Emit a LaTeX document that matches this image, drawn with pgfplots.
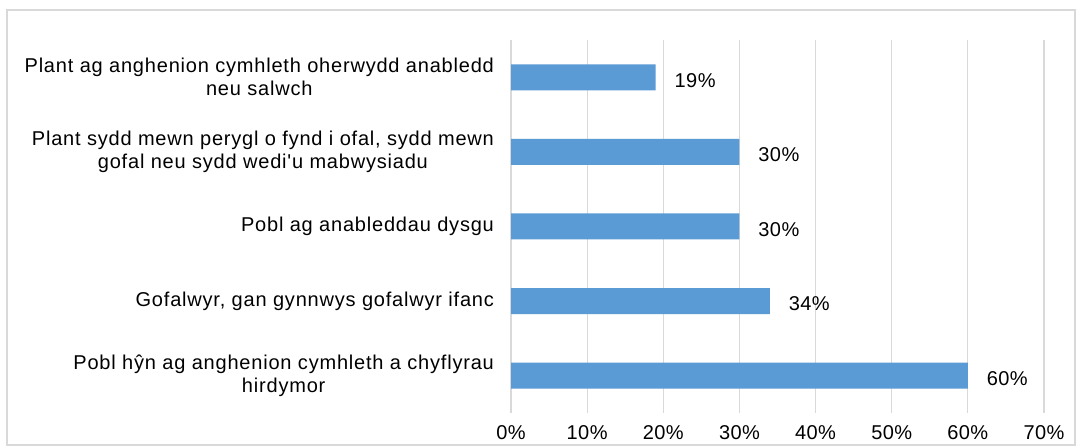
\documentclass[border=0pt]{standalone}
\usepackage{pgfplots}
\pgfplotsset{compat=1.18}
\usepackage{fontspec}
\setmainfont{Liberation Sans}
\newfontfamily\labfont[LetterSpace=2]{Liberation Sans}
\newfontfamily\catfont[LetterSpace=4]{Liberation Sans}
\definecolor{barblue}{HTML}{5B9BD5}
\definecolor{gridgray}{HTML}{D9D9D9}
\definecolor{framegray}{HTML}{D9D9D9}
\begin{document}
\begin{tikzpicture}[x=1pt,y=1pt]
\useasboundingbox (0,0) rectangle (540,224);
\path[fill=white] (0,0) rectangle (540,224);
\draw[framegray,line width=0.6pt] (3.5,1.5) rectangle (537.5,219);
\begin{axis}[
  at={(255.5pt,17.5pt)}, anchor=south west,
  scale only axis,
  width=266.5pt, height=186.5pt,
  xbar, bar width=13pt,
  xmin=0, xmax=70,
  ymin=-0.5, ymax=4.5,
  xtick={0,10,...,70},
  xticklabel={\pgfmathprintnumber{\tick}\%},
  xticklabel style={font=\labfont\fontsize{10}{12}\selectfont, inner sep=1pt, yshift=-5pt},
  /pgf/number format/assume math mode=true,
  ytick={0,1,2,3,4},
  yticklabels={{Pobl hŷn ag anghenion cymhleth a chyflyrau\\hirdymor},
               {Gofalwyr, gan gynnwys gofalwyr ifanc},
               {Pobl ag anableddau dysgu},
               {Plant sydd mewn perygl o fynd i ofal, sydd mewn\\gofal neu sydd wedi'u mabwysiadu},
               {Plant ag anghenion cymhleth oherwydd anabledd\\neu salwch}},
  yticklabel style={font=\catfont\fontsize{10}{11.5}\selectfont, align=center, xshift=-5pt},
  major tick length=0pt,
  xmajorgrids, grid style={gridgray, line width=0.6pt},
  axis line style={draw=none},
  nodes near coords={\pgfmathprintnumber{\pgfplotspointmeta}\%},
  nodes near coords style={font=\labfont\fontsize{10}{12}\selectfont, anchor=west, xshift=6pt, yshift=-1.5pt, /pgf/number format/assume math mode=true},
  clip=false,
]
\addplot[fill=barblue, draw=none] coordinates {(60,0) (34,1) (30,2) (30,3) (19,4)};
\end{axis}
\end{tikzpicture}
\end{document}
